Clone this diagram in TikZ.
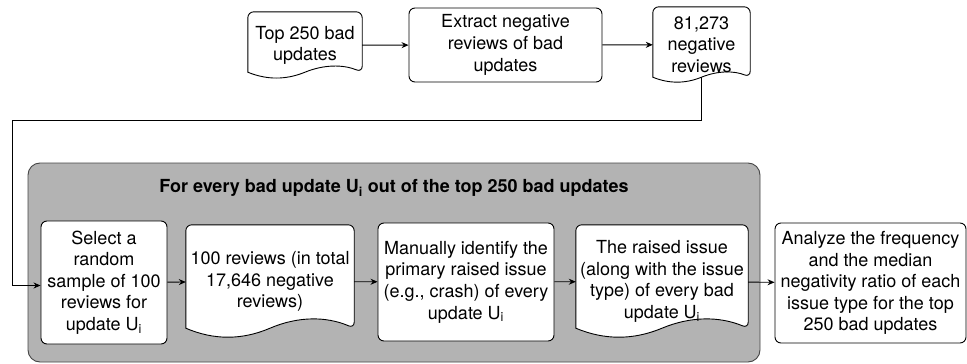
\documentclass[tikz,border=0pt]{standalone}
\usepackage{fontspec}
\setmainfont{TeX Gyre Heros}
\usepackage{tikz}
\usetikzlibrary{positioning}
\usetikzlibrary{calc}
\usetikzlibrary{arrows.meta}
\definecolor{groupgray}{RGB}{179,179,179}
\definecolor{groupline}{RGB}{70,70,70}
\pgfdeclarelayer{bg}
\pgfdeclarelayer{docs}
\pgfsetlayers{bg,docs,main}
\tikzset{
  txt/.style={align=center, font=\fontsize{18}{21.6}\selectfont, inner sep=0pt},
  procbox/.style={txt, draw, fill=white, rounded corners=6pt, line width=0.9pt},
  docbox/.style={txt},
  docline/.style={draw, fill=white, line width=0.9pt},
  groupbox/.style={draw=groupline, fill=groupgray, rounded corners=12pt, line width=0.9pt},
  flow/.style={line width=0.9pt, -{Stealth[length=7pt,width=6pt]}}
}
\newcommand{\docshape}[2]{%
  \draw[docline] let \p1=(#1.south west), \p2=(#1.north east) in
    [rounded corners=6pt] (\x1,{\y1+#2pt/2}) -- (\x1,\y2) -- (\x2,\y2) -- (\x2,{\y1+#2pt/2})
    [sharp corners] .. controls ({\x1+5*(\x2-\x1)/6},{\y1+1.1*#2pt}) and ({\x1+2*(\x2-\x1)/3},{\y1+1.1*#2pt}) .. ({(\x1+\x2)/2},{\y1+#2pt/2})
    .. controls ({\x1+(\x2-\x1)/3},{\y1-0.1*#2pt}) and ({\x1+(\x2-\x1)/6},{\y1-0.1*#2pt}) .. (\x1,{\y1+#2pt/2}) -- cycle;}

\begin{document}
\begin{tikzpicture}[x=1pt, y=-1pt]
    \useasboundingbox (0,0) rectangle (967,364);
    \begin{pgfonlayer}{bg}
    \node[groupbox, minimum width=732, minimum height=199] (grp) at (394,262.5) {};
    \end{pgfonlayer}
    \node[font=\fontsize{18}{21.6}\selectfont\bfseries] (title) at (394,188) {For every bad update U\textsubscript{i} out of the top 250 bad updates};

    \node[docbox, minimum width=114, minimum height=66.5] (top) at (305,45.25) {Top 250 bad\\updates};
    \node[procbox, minimum width=193, minimum height=74] (extract) at (505.5,45) {Extract negative\\reviews of bad\\updates};
    \node[docbox, minimum width=97, minimum height=75.5] (neg) at (701.5,44.75) {81,273\\negative\\reviews};

    \node[procbox, minimum width=126, minimum height=123] (select) at (104,282.5) {Select a\\random\\sample of 100\\reviews for\\update U\textsubscript{i}};
    \node[docbox, minimum width=168, minimum height=113] (hundred) at (270,281.5) {100 reviews (in total\\17,646 negative\\reviews)};
    \node[procbox, minimum width=176, minimum height=118] (manual) at (466,282) {Manually identify the\\primary raised issue\\(e.g., crash) of every\\update U\textsubscript{i}};
    \node[docbox, minimum width=172, minimum height=113] (issue) at (662,281.5) {The raised issue\\(along with the issue\\type) of every bad\\update U\textsubscript{i}};
    \node[procbox, minimum width=191, minimum height=120] (analyze) at (870.5,283) {Analyze the frequency\\and the median\\negativity ratio of each\\issue type for the top\\250 bad updates};

    \begin{pgfonlayer}{docs}
    \docshape{top}{13}
    \docshape{neg}{11}
    \docshape{hundred}{20}
    \docshape{issue}{20}
    \end{pgfonlayer}

    \coordinate (negout) at ([yshift=5.5pt]neg.south);
    \coordinate (bend) at (12,120);
    \coordinate (selectin) at ([yshift=-3pt]select.west);
    \draw[flow] (top) -- (extract);
    \draw[flow] (extract) -- (neg);
    \draw[flow] (negout) |- (bend) |- (selectin);
    \draw[flow] (select) -- (hundred);
    \draw[flow] (hundred) -- (manual);
    \draw[flow] (manual) -- (issue);
    \draw[flow] (issue) -- (analyze);
\end{tikzpicture}
\end{document}
